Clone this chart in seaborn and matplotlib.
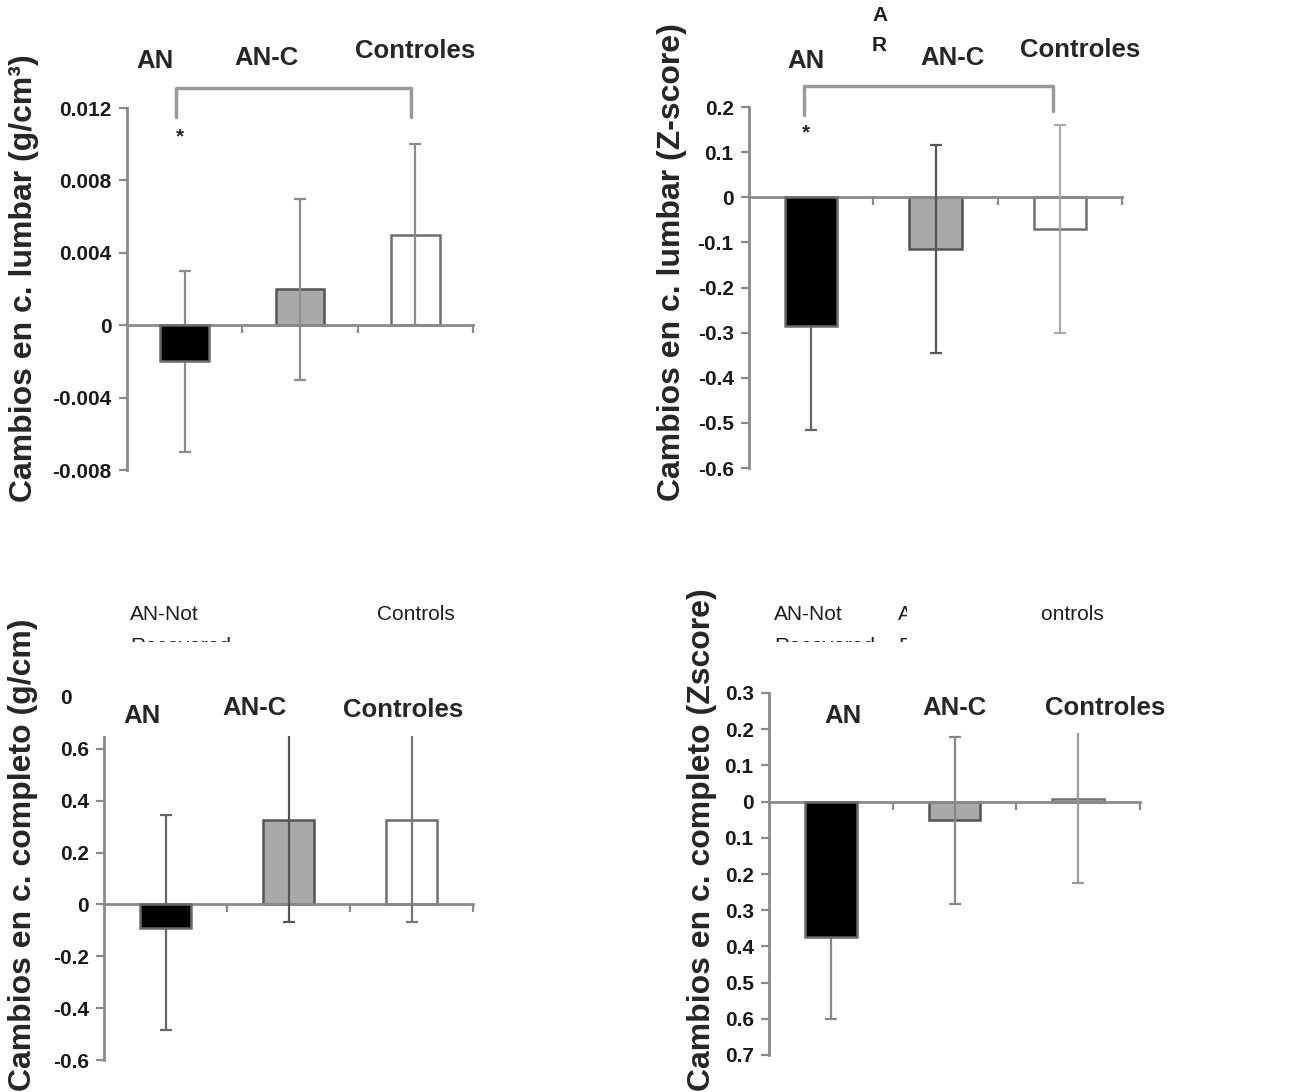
import seaborn as sns
import matplotlib.pyplot as plt
from matplotlib.patches import Rectangle

sns.set_style('white')
plt.rcParams['font.family'] = ['Liberation Sans', 'DejaVu Sans']

# Datos
categorias = ['AN', 'AN-C', 'Controles']
colores = ['#000000', '#a9a9a9', '#ffffff']
bordes = ['#6a6a6a', '#555555', '#6f6f6f']

lumbar_gcm3 = [-0.002, 0.002, 0.005]
lumbar_gcm3_inf = [0.005, 0.005, 0.005]
lumbar_gcm3_sup = [0.005, 0.005, 0.005]

lumbar_z = [-0.285, -0.115, -0.07]
lumbar_z_inf = [0.23, 0.23, 0.23]
lumbar_z_sup = [0.23, 0.23, 0.23]

completo_gcm = [-0.09, 0.327, 0.327]
completo_gcm_inf = [0.393, 0.396, 0.396]
completo_gcm_sup = [0.434, 0.40, 0.40]

completo_z = [-0.373, -0.052, 0.008]
completo_z_inf = [0.227, 0.232, 0.234]
completo_z_sup = [0.227, 0.23, 0.234]

ticks_1 = [-0.008, -0.004, 0, 0.004, 0.008, 0.012]
etiq_1 = ['-0.008', '-0.004', '0', '0.004', '0.008', '0.012']
ticks_2 = [-0.6, -0.5, -0.4, -0.3, -0.2, -0.1, 0, 0.1, 0.2]
etiq_2 = ['-0.6', '-0.5', '-0.4', '-0.3', '-0.2', '-0.1', '0', '0.1', '0.2']
ticks_3 = [-0.6, -0.4, -0.2, 0, 0.2, 0.4, 0.6, 0.8]
etiq_3 = ['-0.6', '-0.4', '-0.2', '0', '0.2', '0.4', '0.6', '0.8']
ticks_4 = [-0.7, -0.6, -0.5, -0.4, -0.3, -0.2, -0.1, 0, 0.1, 0.2, 0.3]
etiq_4 = ['0.7', '0.6', '0.5', '0.4', '0.3', '0.2', '0.1', '0', '0.1', '0.2', '0.3']

W, H = 1296, 1092
fig = plt.figure(figsize=(W / 100, H / 100), dpi=100)


def caja(izq, arriba, der, abajo):
    return [izq / W, 1 - abajo / H, (der - izq) / W, (abajo - arriba) / H]


def texto(x, y, s, **kw):
    fig.text(x / W, 1 - y / H, s, **kw)


def tapar(izq, arriba, der, abajo):
    fig.patches.append(Rectangle((izq / W, 1 - abajo / H), (der - izq) / W, (abajo - arriba) / H,
                                 transform=fig.transFigure, facecolor='white',
                                 edgecolor='none', zorder=5))


def panel(pos, valores, inf, sup, ylim, ticks, etiquetas, col_err):
    ax = fig.add_axes(caja(*pos))
    sns.barplot(x=categorias, y=valores, hue=categorias, palette=colores, legend=False,
                width=0.42, errorbar=None, ax=ax, zorder=2)
    for barra, borde in zip(ax.patches, bordes):
        barra.set_edgecolor(borde)
        barra.set_linewidth(1.8)
    # la barra negra tapa su propia barra de error
    ax.patches[0].set_zorder(4)
    for i in range(3):
        ax.errorbar(i, valores[i], yerr=[[inf[i]], [sup[i]]], fmt='none', ecolor=col_err[i],
                    elinewidth=1.6, capsize=4, capthick=1.6, zorder=3)
    ax.set_xlim(-0.5, 2.5)
    ax.set_ylim(*ylim)
    ax.spines[['top', 'right']].set_visible(False)
    ax.spines['bottom'].set_position(('data', 0))
    for lado in ['left', 'bottom']:
        ax.spines[lado].set_color('#8a8a8a')
        ax.spines[lado].set_linewidth(2)
    ax.set_xticks([0.5, 1.5, 2.5])
    ax.set_xticklabels([])
    ax.set_yticks(ticks)
    ax.set_yticklabels(etiquetas)
    ax.tick_params(axis='both', direction='out', length=6, width=1.6, color='#8a8a8a',
                   pad=5, labelsize=15, labelcolor='#1a1a1a', left=True, bottom=True)
    for t in ax.get_yticklabels():
        t.set_fontweight('bold')
    ax.set_xlabel('')
    ax.set_ylabel('')
    return ax


def corchete(ax, xs, ys, estrella):
    ax.plot([xs[0], xs[0], xs[1], xs[1]], [ys[1], ys[0], ys[0], ys[2]],
            color='#999999', lw=2.5, clip_on=False, zorder=4)
    ax.text(estrella[0], estrella[1], '*', ha='center', va='center', fontsize=15,
            fontweight='bold', clip_on=False)


# Panel 1: lumbar g/cm3
ax1 = panel((127, 108, 473, 470), lumbar_gcm3, lumbar_gcm3_inf, lumbar_gcm3_sup,
            (-0.008, 0.012), ticks_1, etiq_1, ['#8c8c8c'] * 3)
corchete(ax1, [-0.075, 1.963], [0.0131, 0.0115, 0.0115], (-0.04, 0.0104))

# Panel 2: lumbar Z-score
ax2 = panel((749, 107, 1122, 468), lumbar_z, lumbar_z_inf, lumbar_z_sup,
            (-0.6, 0.2), ticks_2, etiq_2, ['#666666', '#555555', '#aaaaaa'])
corchete(ax2, [-0.058, 1.946], [0.2465, 0.182, 0.191], (-0.04, 0.142))

# Panel 3: completo g/cm
ax3 = panel((104, 697, 473, 1060), completo_gcm, completo_gcm_inf, completo_gcm_sup,
            (-0.6, 0.8), ticks_3, etiq_3, ['#666666', '#555555', '#777777'])

# Panel 4: completo Z-score
ax4 = panel((769, 693, 1140, 1055), completo_z, completo_z_inf, completo_z_sup,
            (-0.7, 0.3), ticks_4, etiq_4, ['#888888', '#888888', '#999999'])

# Títulos de ejes
ylab = dict(rotation=90, ha='center', va='center', fontsize=23, fontweight='bold')
texto(24, 278, 'Cambios en c. lumbar (g/cm³)', **ylab)
texto(672, 262, 'Cambios en c. lumbar (Z-score)', **ylab)
texto(23, 855, 'Cambios en c. completo (g/cm)', **ylab)
texto(702, 840, 'Cambios en c. completo (Zscore)', **ylab)

# Restos de las etiquetas originales en inglés, tapados en parte
peq = dict(ha='left', va='top', fontsize=15, color='#1e1e1e', linespacing=1.85, zorder=4)
texto(872, 6, 'A\nR', ha='left', va='top', fontsize=15, fontweight='bold',
      color='#1e1e1e', linespacing=1.75)
texto(130, 605, 'AN-Not\nRecovered', **peq)
texto(377, 605, 'Controls', **peq)
texto(774, 605, 'AN-Not\nRecovered', **peq)
texto(898, 605, 'AN-C\nRecovered', **peq)
texto(1026, 605, 'Controls', **peq)

tapar(72, 642, 620, 736)
tapar(907, 588, 1041, 645)
tapar(760, 642, 1296, 680)
tapar(1060, 680, 1296, 733)

# Etiquetas de grupo
grande = dict(ha='center', va='baseline', fontsize=18.5, fontweight='bold', zorder=6)
for xs, ys in [([155, 266, 415], [68, 65, 58]),
               ([806, 952, 1080], [68, 65, 57]),
               ([142, 254, 403], [723, 715, 717]),
               ([843, 954, 1105], [723, 715, 715])]:
    for x, y, c in zip(xs, ys, categorias):
        texto(x, y, c, **grande)

fig.savefig('out.png', dpi=100, facecolor='white')
